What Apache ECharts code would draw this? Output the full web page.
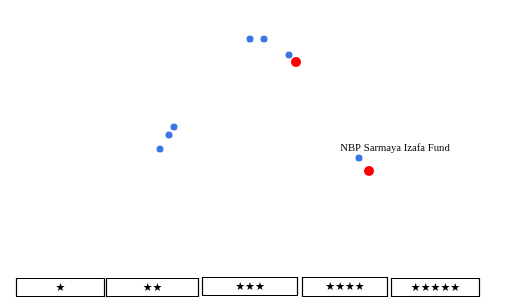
<!DOCTYPE html>
<html><head><meta charset="utf-8">
<style>html,body{margin:0;padding:0;background:#fff}#c{width:506px;height:308px}</style>
<script src="https://cdn.jsdelivr.net/npm/echarts@6/dist/echarts.min.js"></script>
</head><body><div id="c"></div>
<script>
// Funds (risk, return) in chart units
const fundNames = ['Fund A','Fund B','Fund C','Fund D','Fund E','Fund F','NBP Sarmaya Izafa Fund'];
const fundRisk   = [25.0, 26.4, 28.9, 17.4, 16.9, 16.0, 35.9];
const fundReturn = [26.9, 26.9, 25.3, 18.1, 17.3, 15.9, 15.0];
// highlighted (red) points
const hiRisk   = [29.6, 36.9];
const hiReturn = [24.6, 13.7];
const ratingLabels = ['★','★★','★★★','★★★★','★★★★★'];
const labelledFund = 'NBP Sarmaya Izafa Fund';

const chart = echarts.init(document.getElementById('c'));
const boxes = [[16,278,88,18],[106,278,92,18],[202,277,95,18],[302,277,85,19],[391,278,88,18]];
const graphic = [];
ratingLabels.forEach((t,i)=>{
  const b = boxes[i];
  graphic.push({type:'rect', shape:{x:b[0]+0.5,y:b[1]+0.5,width:b[2],height:b[3]}, style:{fill:'#fff',stroke:'#000',lineWidth:1.2}});
  graphic.push({type:'text', x:b[0]+b[2]/2+0.5, y:b[1]+b[3]/2+1, style:{text:t, fill:'#000', font:'bold 11px "DejaVu Sans"', align:'center', verticalAlign:'middle'}});
});
chart.setOption({
  animation:false,
  grid:{left:0,right:0,top:0,bottom:0},
  xAxis:{type:'value',min:0,max:50.6,show:false},
  yAxis:{type:'value',min:0,max:30.8,show:false},
  series:[
    {type:'scatter', symbolSize:7, itemStyle:{color:'#3b76e3',opacity:1},
     data: fundRisk.map((x,i)=>({value:[x,fundReturn[i]], name:fundNames[i],
       label: fundNames[i]===labelledFund ? {show:true, formatter:'{b}', position:'top', offset:[36,4],
         color:'#000', fontFamily:'"Liberation Serif", "Times New Roman", serif', fontSize:10.7} : {show:false}}))},
    {type:'scatter', symbolSize:10, itemStyle:{color:'#ff0000',opacity:1},
     data: hiRisk.map((x,i)=>[x,hiReturn[i]])}
  ],
  graphic: graphic
});
</script></body></html>
